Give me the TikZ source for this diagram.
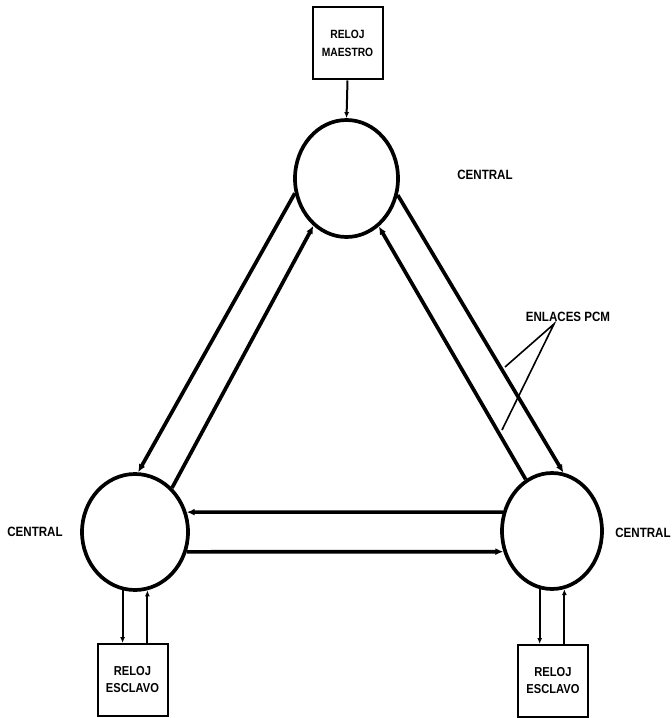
\documentclass[tikz,border=0pt]{standalone}
\usepackage{fontspec}
\setmainfont{Liberation Sans}
\newfontfamily\condfont[FakeStretch=0.86]{Liberation Sans}
\usetikzlibrary{shapes.geometric,arrows.meta}
\begin{document}
\begin{tikzpicture}[x=1bp,y=-1bp,
  hub/.style={ellipse,draw,line width=3.7bp,inner sep=0pt},
  clock/.style={draw,line width=2bp,minimum width=70bp,minimum height=72bp,inner sep=0pt,align=center,font=\condfont\bfseries\fontsize{12}{18}\selectfont},
  lbl/.style={inner sep=2bp,font=\condfont\bfseries\fontsize{13.5}{16}\selectfont},
  link/.style={line width=3.7bp,-{Latex[length=8bp,width=7bp]}},
  feed/.style={line width=2bp,-{Latex[length=6bp,width=5bp]}},
  leader/.style={line width=1.6bp}]
\fill[white] (0,0) rectangle (672,718);
\useasboundingbox (0,0) rectangle (672,718);

% centrals
\node[hub,minimum width=103bp,minimum height=117bp] (top) at (346.5,178.5) {};
\node[hub,minimum width=106bp,minimum height=116bp] (lc) at (135,532) {};
\node[hub,minimum width=100bp,minimum height=116bp] (rc) at (552,531) {};

% clocks
\node[clock] (mbox) at (347.5,43.5) {RELOJ\\MAESTRO};
\node[clock,font=\condfont\bfseries\fontsize{13}{17}\selectfont] (lbox) at (132.5,680) {RELOJ\\ESCLAVO};
\node[clock,font=\condfont\bfseries\fontsize{13}{17}\selectfont] (rbox) at (553,681) {RELOJ\\ESCLAVO};

% labels
\node[lbl] (ct) at (485,175) {CENTRAL};
\node[lbl] (cl) at (35,532) {CENTRAL};
\node[lbl] (cr) at (643,533) {CENTRAL};
\node[lbl,font=\condfont\bfseries\fontsize{13.5}{16}\selectfont] (pcm) at (568,317) {ENLACES PCM};

% PCM links
\draw[link] (top.196) -- (lc.87);
\draw[link] (lc.50) -- (top.235);
\draw[link] (top.342) -- (rc.79);
\draw[link] (rc.117) -- (top.304);
\draw[link] (rc.159) -- (lc.21);
\draw[link] (lc.339) -- (rc.203);

% clock feeds
\draw[feed] (mbox.south) -- (top.north);
\draw[feed] (lc.258) -- (lc.258 |- lbox.north);
\draw[feed] (lbox.north -| lc.282) -- (lc.282);
\draw[feed] (rc.258) -- (rc.258 |- rbox.north);
\draw[feed] (rbox.north -| rc.282) -- (rc.282);

% leaders
\coordinate (pcmA) at (505,367);
\coordinate (pcmB) at (502,430);
\draw[leader] (pcmA) -- ([xshift=-14bp]pcm.south) -- (pcmB);
\end{tikzpicture}
\end{document}
